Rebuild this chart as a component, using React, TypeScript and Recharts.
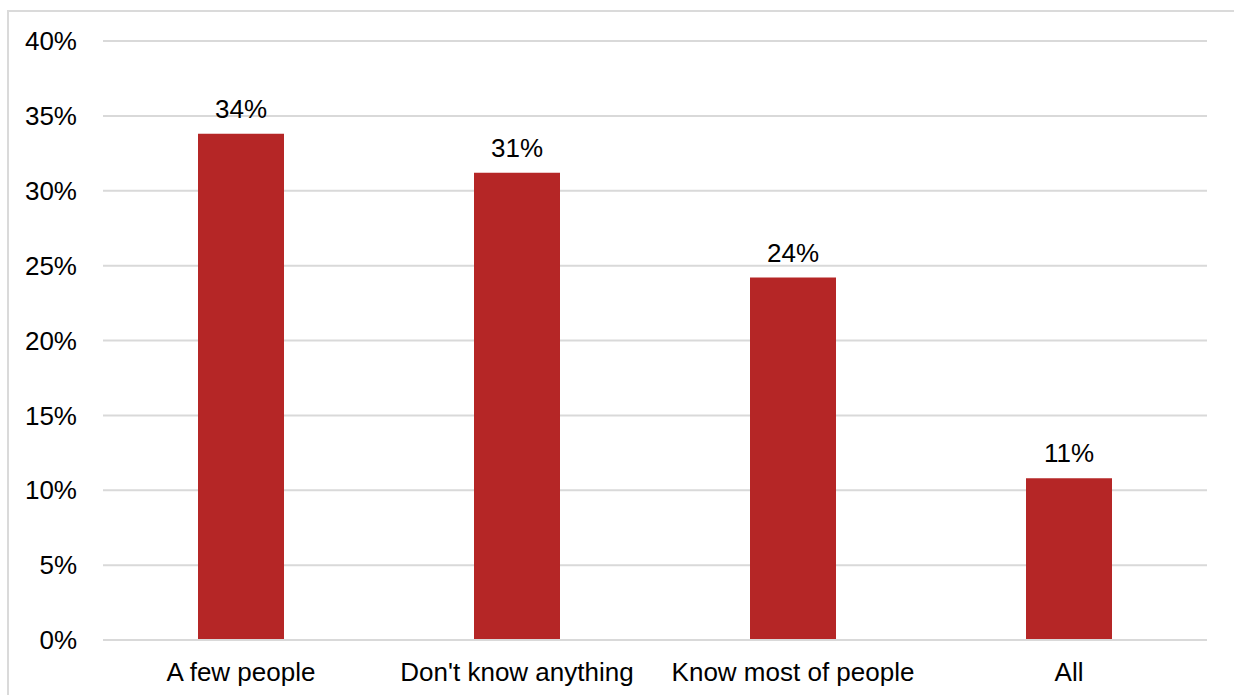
import React from 'react';
import { BarChart, Bar, XAxis, YAxis, CartesianGrid, LabelList } from 'recharts';

const categories = ['A few people', "Don't know anything", 'Know most of people', 'All'];
const shares = [33.8, 31.2, 24.2, 10.8];
const yTicks = [0, 5, 10, 15, 20, 25, 30, 35, 40];

const data = categories.map((name, i) => ({ name, value: shares[i] }));

const FONT = '"Liberation Sans", Arial, Helvetica, sans-serif';

export default function App() {
  return (
    <div
      style={{
        position: 'fixed',
        left: 0,
        top: 0,
        width: 1234,
        height: 695,
        overflow: 'hidden',
        background: '#fff',
        fontFamily: FONT,
      }}
    >
      <div
        style={{
          position: 'absolute',
          left: 7,
          top: 10,
          width: 1300,
          height: 800,
          borderTop: '2px solid #dadada',
          borderLeft: '2px solid #dadada',
        }}
      />
      <div style={{ position: 'absolute', left: 8, top: 8 }}>
        <BarChart
          width={1226}
          height={687}
          data={data}
          margin={{ top: 33, right: 27, bottom: 0, left: 0 }}
        >
          <CartesianGrid vertical={false} stroke="#d9d9d9" strokeWidth={2} />
          <XAxis
            dataKey="name"
            height={55}
            axisLine={{ stroke: '#d9d9d9', strokeWidth: 2 }}
            tickLine={false}
            tickSize={0}
            tickMargin={23}
            interval={0}
            tick={{ fill: '#000', fontSize: 26, fontFamily: FONT }}
          />
          <YAxis
            width={95}
            domain={[0, 40]}
            ticks={yTicks}
            interval={0}
            axisLine={false}
            tickLine={false}
            tickSize={0}
            tickMargin={26}
            tickFormatter={(v: number) => `${v}%`}
            tick={{ fill: '#000', fontSize: 26, fontFamily: FONT }}
          />
          <Bar dataKey="value" fill="#b52626" barSize={86} isAnimationActive={false}>
            <LabelList
              dataKey="value"
              position="top"
              offset={16}
              formatter={(v: number) => `${Math.round(v)}%`}
              style={{ fill: '#000', fontSize: 26, fontFamily: FONT }}
            />
          </Bar>
        </BarChart>
      </div>
    </div>
  );
}
